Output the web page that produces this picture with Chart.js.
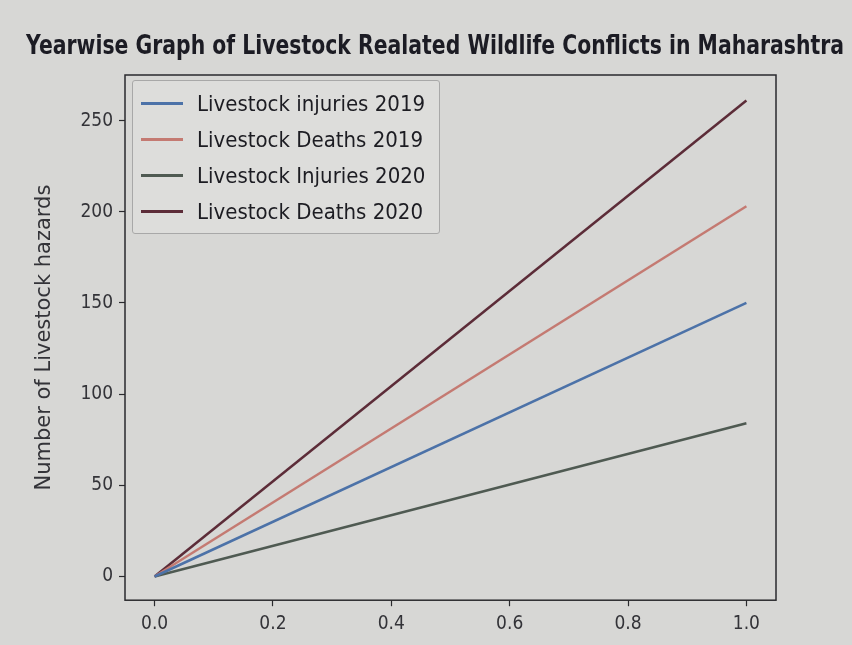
<!DOCTYPE html>
<html lang="en">
<head>
  <meta charset="UTF-8" />
  <title>Livestock Wildlife Conflicts</title>
  <style>
    html, body { margin: 0; padding: 0; background: #ffffff; }
    .wrap { position: relative; width: 852px; height: 645px; }
    #legend {
      position: absolute; left: 132px; top: 80px;
      padding: 4px 14px 4px 8px;
      border: 1px solid #a8a8a8; border-radius: 3px;
      background: rgba(222, 222, 220, 0.8);
      font-family: "DejaVu Sans Condensed", "DejaVu Sans", sans-serif;
      font-size: 22px; color: #1c1c22;
    }
    #legend div { display: flex; align-items: center; height: 36px; }
    #legend span.swatch { display: inline-block; width: 42px; height: 3px; margin-right: 14px; }
  </style>
</head>
<body>
  <div class="wrap">
    <canvas id="chart" width="852" height="645"></canvas>
    <div id="legend"></div>
  </div>

  <script src="https://cdn.jsdelivr.net/npm/chart.js"></script>
  <script>
    // data
    const xValues = [0, 1];
    const injuries2019 = [0, 150];
    const deaths2019 = [0, 203];
    const injuries2020 = [0, 84];
    const deaths2020 = [0, 261];
    const xTicks = [0, 0.2, 0.4, 0.6, 0.8, 1.0];
    const yTicks = [0, 50, 100, 150, 200, 250];

    const seriesNames = ['Livestock injuries 2019', 'Livestock Deaths 2019', 'Livestock Injuries 2020', 'Livestock Deaths 2020'];
    const seriesValues = [injuries2019, deaths2019, injuries2020, deaths2020];
    const seriesColors = ['#4c72a8', '#c47a72', '#4f5a52', '#5c2c38'];

    const chartTitle = 'Yearwise Graph of Livestock Realated Wildlife Conflicts in Maharashtra';
    const font = '"DejaVu Sans Condensed", "DejaVu Sans", sans-serif';

    // photo background, squeezed title and full box around the plot
    const paperAndFrame = {
      id: 'paperAndFrame',
      beforeDraw(chart) {
        const c = chart.ctx;
        c.save();
        c.fillStyle = '#d7d7d5';
        c.fillRect(0, 0, chart.width, chart.height);
        c.fillStyle = '#1c1c24';
        c.font = 'bold 27px "DejaVu Sans", sans-serif';
        c.textAlign = 'center';
        c.textBaseline = 'middle';
        c.fillText(chartTitle, 435, 47, 818);
        c.restore();
      },
      afterDatasetsDraw(chart) {
        const a = chart.chartArea;
        const c = chart.ctx;
        c.save();
        c.strokeStyle = '#2a2a2e';
        c.lineWidth = 1.5;
        c.strokeRect(a.left, a.top, a.right - a.left, a.bottom - a.top);
        c.restore();
      }
    };

    const datasets = seriesNames.map((name, i) => ({
      label: name,
      data: xValues.map((x, j) => ({ x: x, y: seriesValues[i][j] })),
      borderColor: seriesColors[i],
      backgroundColor: seriesColors[i],
      borderWidth: 2.5,
      pointRadius: 0,
      tension: 0
    }));

    const chart = new Chart(document.getElementById('chart'), {
      type: 'line',
      data: { datasets: datasets },
      plugins: [paperAndFrame],
      options: {
        responsive: false,
        animation: false,
        layout: { padding: { left: 26, right: 76, top: 75, bottom: 4 } },
        plugins: {
          legend: { display: false },
          tooltip: { enabled: false },
          title: { display: false }
        },
        scales: {
          x: {
            type: 'linear',
            min: -0.05,
            max: 1.05,
            afterBuildTicks: axis => { axis.ticks = xTicks.map(v => ({ value: v })); },
            grid: { drawOnChartArea: false, drawTicks: true, tickLength: 6, tickWidth: 1.2, color: '#2a2a2e' },
            border: { display: false },
            ticks: {
              color: '#333338',
              font: { family: font, size: 19 },
              padding: 6,
              callback: v => v.toFixed(1)
            }
          },
          y: {
            min: -13,
            max: 275,
            afterBuildTicks: axis => { axis.ticks = yTicks.map(v => ({ value: v })); },
            afterFit: axis => { axis.width = 99; },
            grid: { drawOnChartArea: false, drawTicks: true, tickLength: 6, tickWidth: 1.2, color: '#2a2a2e' },
            border: { display: false },
            ticks: {
              color: '#333338',
              font: { family: font, size: 19 },
              padding: 6
            },
            title: {
              display: true,
              text: 'Number of Livestock hazards',
              color: '#333338',
              font: { family: '"DejaVu Sans", sans-serif', size: 21 },
              padding: { top: 6, bottom: 10 }
            }
          }
        }
      }
    });

    // legend box in the upper left of the plot
    const legendEl = document.getElementById('legend');
    seriesNames.forEach((name, i) => {
      const row = document.createElement('div');
      const sw = document.createElement('span');
      sw.className = 'swatch';
      sw.style.background = seriesColors[i];
      row.appendChild(sw);
      row.appendChild(document.createTextNode(name));
      legendEl.appendChild(row);
    });
    legendEl.style.left = (chart.chartArea.left + 7) + 'px';
    legendEl.style.top = (chart.chartArea.top + 5) + 'px';
  </script>
</body>
</html>
